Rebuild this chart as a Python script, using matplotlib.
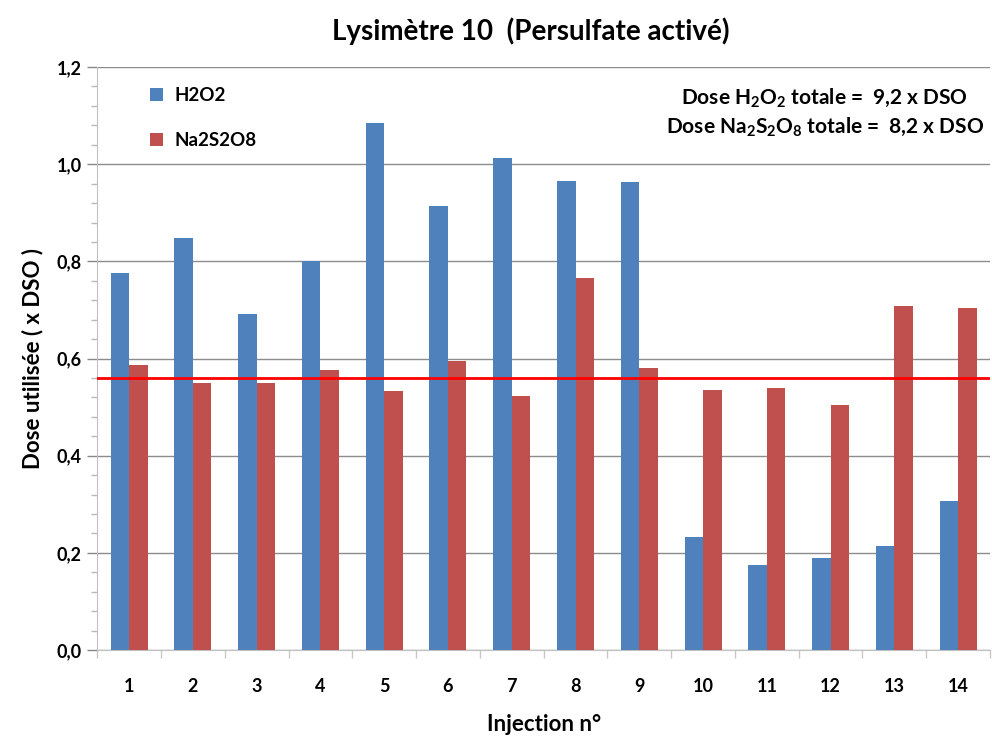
import matplotlib
matplotlib.use("Agg")
import matplotlib.pyplot as plt
import numpy as np

plt.rcParams['font.family'] = ['Lato', 'DejaVu Sans']
plt.rcParams['mathtext.fontset'] = 'custom'
plt.rcParams['mathtext.rm'] = 'Lato:bold'
plt.rcParams['mathtext.it'] = 'Lato:bold'
plt.rcParams['mathtext.bf'] = 'Lato:bold'
plt.rcParams['mathtext.default'] = 'rm'

injections = ['1', '2', '3', '4', '5', '6', '7', '8', '9', '10', '11', '12', '13', '14']
h2o2 = [0.777, 0.849, 0.691, 0.801, 1.084, 0.915, 1.012, 0.965, 0.963, 0.232, 0.175, 0.189, 0.214, 0.306]
na2s2o8 = [0.587, 0.549, 0.549, 0.576, 0.533, 0.594, 0.522, 0.765, 0.580, 0.535, 0.539, 0.504, 0.708, 0.704]
ref_line = 0.56
yticks = [0.0, 0.2, 0.4, 0.6, 0.8, 1.0, 1.2]
ytick_labels = ['0,0', '0,2', '0,4', '0,6', '0,8', '1,0', '1,2']

blue = '#4F81BD'
red = '#C0504D'

fig = plt.figure(figsize=(9.92, 7.37), dpi=100)
ax = fig.add_axes([0.098, 0.118, 0.900, 0.791])

x = np.arange(len(injections))
w = 0.29
ax.bar(x - w / 2, h2o2, width=w, color=blue, label='H2O2', zorder=3)
ax.bar(x + w / 2, na2s2o8, width=w, color=red, label='Na2S2O8', zorder=3)
ax.axhline(ref_line, color='#FF0000', lw=2, zorder=4)

ax.set_xlim(-0.5, len(injections) - 0.5)
ax.set_ylim(0, 1.2)
ax.set_yticks(yticks)
ax.set_yticklabels(ytick_labels, fontsize=13, fontweight='bold')
ax.set_yticks(np.arange(0, 1.2001, 0.04), minor=True)
ax.tick_params(axis='y', which='major', length=7, color='#888888', width=1, pad=4)
ax.tick_params(axis='y', which='minor', length=4, color='#bbbbbb', width=1)
ax.yaxis.grid(True, color='#8c8c8c', lw=1, zorder=0)

ax.set_xticks(x)
ax.set_xticklabels(injections, fontsize=13, fontweight='bold')
ax.set_xticks(np.arange(-0.5, len(injections), 1.0), minor=True)
ax.tick_params(axis='x', which='major', length=0, pad=20)
ax.tick_params(axis='x', which='minor', length=6, color='#c8c8c8', width=1)

for s in ['top', 'right']:
    ax.spines[s].set_visible(False)
ax.spines['left'].set_color('#c0c0c0')
ax.spines['bottom'].set_color('#c0c0c0')

ax.set_ylabel('Dose utilisée ( x DSO )', fontsize=16, fontweight='bold', labelpad=10)
ax.set_xlabel('Injection n°', fontsize=16, fontweight='bold', labelpad=14)

fig.text(0.535, 0.958, 'Lysimètre 10  (Persulfate activé)', ha='center', va='center',
         fontsize=20, fontweight='bold')

leg = ax.legend(loc='upper left', bbox_to_anchor=(0.04, 0.995), frameon=False,
                fontsize=13.5, handlelength=0.7, handleheight=0.7, labelspacing=1.5,
                handletextpad=0.6)
for t in leg.get_texts():
    t.set_fontweight('bold')

ax.text(0.815, 0.948, 'Dose $H_2O_2$ totale =  9,2 x DSO', transform=ax.transAxes,
        ha='center', va='center', fontsize=15, fontweight='bold')
ax.text(0.815, 0.898, 'Dose $Na_2S_2O_8$ totale =  8,2 x DSO', transform=ax.transAxes,
        ha='center', va='center', fontsize=15, fontweight='bold')

fig.savefig('out.png', dpi=100)
